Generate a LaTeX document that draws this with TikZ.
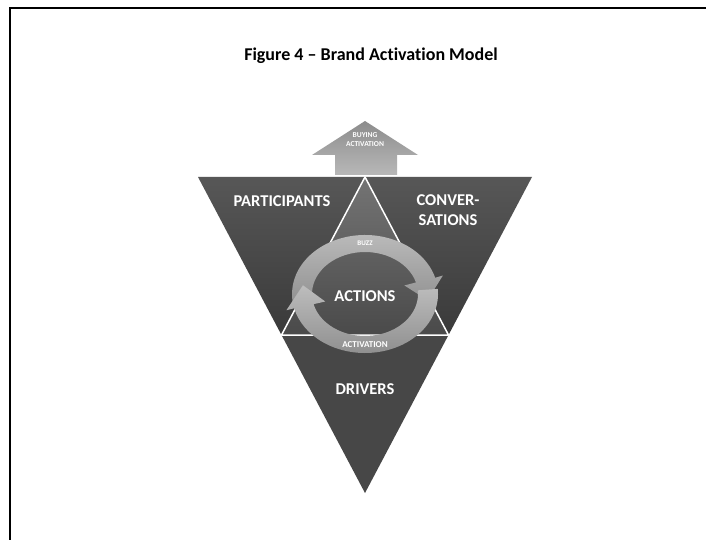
\documentclass[tikz,border=0pt]{standalone}
\usepackage{fontspec}
\setmainfont{Carlito}[Ligatures=NoCommon]
\definecolor{cornertop}{HTML}{575757}
\definecolor{cornerbot}{HTML}{3A3A3A}
\definecolor{drivers}{HTML}{474747}
\definecolor{midtop}{HTML}{747474}
\definecolor{midbot}{HTML}{4A4A4A}
\definecolor{ringtop}{HTML}{BDBDBD}
\definecolor{ringbot}{HTML}{8E8E8E}
\definecolor{arrtop}{HTML}{8C8C8C}
\definecolor{arrbot}{HTML}{B8B8B8}
\begin{document}
\begin{tikzpicture}[x=1pt,y=1pt,
  lbl/.style={text=white,font=\bfseries\fontsize{16.5}{20}\selectfont,inner sep=0pt,align=center},
  tiny/.style={text=white,font=\bfseries\fontsize{7.5}{9}\selectfont,inner sep=0pt,align=center},
  ringfill/.style={top color=ringtop,bottom color=ringbot}]
\useasboundingbox (0,0) rectangle (706,539);
\fill[white] (0,0) rectangle (706,539);
\draw[line width=2.5pt] (10,-5) -- (10,531) -- (715,531);
\node[font=\bfseries\fontsize{18}{21}\selectfont,inner sep=0pt] (title) at (371,483) {Figure 4 – Brand Activation Model};
% triangle points
\coordinate (TL) at (198,362);
\coordinate (TR) at (532,362);
\coordinate (B) at (365,46);
\coordinate (T) at (365,362);
\coordinate (ML) at (281.5,204);
\coordinate (MR) at (448.5,204);
\shade[top color=cornertop,bottom color=cornerbot] (TL) -- (T) -- (ML) -- cycle;
\shade[top color=cornertop,bottom color=cornerbot] (T) -- (TR) -- (MR) -- cycle;
\fill[drivers] (ML) -- (MR) -- (B) -- cycle;
\shade[top color=midtop,bottom color=midbot] (T) -- (ML) -- (MR) -- cycle;
\draw[white,line width=1.5pt,line join=round] (T) -- (ML) -- (MR) -- cycle;
% buying activation arrow
\shade[top color=arrtop,bottom color=arrbot] (335,364) -- (335,384) -- (312,384) -- (365,418) -- (418,384) -- (397,384) -- (397,364) -- cycle;
% ring arrows
\def\cx{365}\def\cy{245}
% upper arc: clockwise from left to right, head pointing down
\shade[ringfill]
  ({\cx+73*cos(195)},{\cy+59*sin(195)})
  arc[start angle=195,end angle=16,x radius=73,y radius=59]
  -- ({\cx+81*cos(16)},{\cy+67*sin(16)})
  -- ({\cx+63*cos(-7)},{\cy+50.5*sin(-7)})
  -- ({\cx+41*cos(16)},{\cy+31*sin(16)})
  -- ({\cx+53*cos(16)},{\cy+42*sin(16)})
  arc[start angle=16,end angle=195,x radius=53,y radius=42]
  -- cycle;
% lower arc: clockwise from right to left, head pointing up
\shade[ringfill]
  ({\cx+73*cos(5)},{\cy+59*sin(5)})
  arc[start angle=5,end angle=-166,x radius=73,y radius=59]
  -- ({\cx+81*cos(-166)},{\cy+67*sin(-166)})
  -- ({\cx+63*cos(-190)},{\cy+50.5*sin(-190)})
  -- ({\cx+41*cos(-166)},{\cy+31*sin(-166)})
  -- ({\cx+53*cos(-166)},{\cy+42*sin(-166)})
  arc[start angle=-166,end angle=5,x radius=53,y radius=42]
  -- cycle;
% texts
\node[tiny] (buying) at (365,399) {BUYING\\ACTIVATION};
\node[lbl] (participants) at (282,338) {PARTICIPANTS};
\node[lbl] (conversations) at (448,328.5) {CONVER-\\SATIONS};
\node[tiny,font=\bfseries\fontsize{7}{9}\selectfont] (buzz) at (365,296) {BUZZ};
\node[lbl] (actions) at (365,243) {ACTIONS};
\node[tiny,font=\bfseries\fontsize{9}{11}\selectfont] (activation) at (365,194) {ACTIVATION};
\node[lbl] (driverslbl) at (365,150) {DRIVERS};
\end{tikzpicture}
\end{document}
